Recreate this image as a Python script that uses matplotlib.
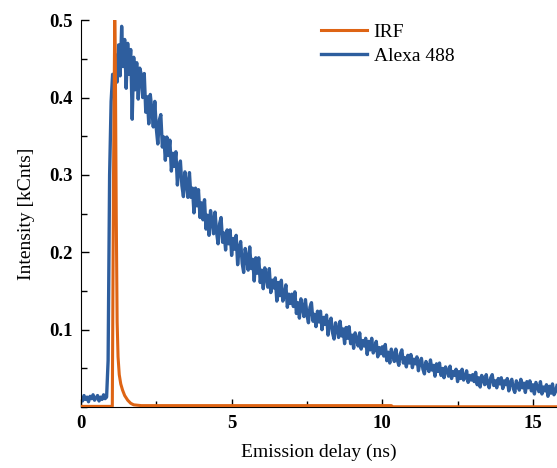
import numpy as np
import matplotlib.pyplot as plt
from matplotlib.ticker import MultipleLocator, FixedLocator

# Alexa 488 decay, one value per 0.05 ns bin starting at 0 ns
time_step = 0.05
alexa = [
    0.012, 0.008, 0.015, 0.010, 0.013, 0.007, 0.014, 0.011, 0.016, 0.009,
    0.012, 0.015, 0.008, 0.013, 0.010, 0.016, 0.011, 0.013, 0.060, 0.300,
    0.395, 0.430, 0.405, 0.455, 0.420, 0.468, 0.428, 0.492, 0.440, 0.475,
    0.412, 0.470, 0.430, 0.462, 0.372, 0.452, 0.410, 0.445, 0.398, 0.438,
    0.430, 0.400, 0.431, 0.381, 0.401, 0.366, 0.404, 0.385, 0.362, 0.395,
    0.360, 0.340, 0.371, 0.378, 0.336, 0.349, 0.319, 0.349, 0.325, 0.345,
    0.305, 0.328, 0.311, 0.330, 0.287, 0.310, 0.318, 0.286, 0.272, 0.304,
    0.290, 0.271, 0.303, 0.271, 0.283, 0.251, 0.283, 0.260, 0.281, 0.245,
    0.264, 0.242, 0.268, 0.230, 0.248, 0.222, 0.254, 0.240, 0.224, 0.252,
    0.226, 0.211, 0.237, 0.245, 0.213, 0.225, 0.203, 0.229, 0.211, 0.229,
    0.196, 0.218, 0.204, 0.222, 0.184, 0.206, 0.214, 0.186, 0.174, 0.205,
    0.193, 0.177, 0.207, 0.179, 0.191, 0.163, 0.193, 0.173, 0.193, 0.161,
    0.177, 0.153, 0.180, 0.169, 0.155, 0.179, 0.148, 0.164, 0.154, 0.167,
    0.137, 0.161, 0.144, 0.164, 0.137, 0.144, 0.158, 0.129, 0.146, 0.134,
    0.146, 0.130, 0.149, 0.121, 0.135, 0.115, 0.140, 0.129, 0.117, 0.139,
    0.119, 0.109, 0.129, 0.135, 0.111, 0.120, 0.104, 0.124, 0.110, 0.124,
    0.100, 0.116, 0.107, 0.119, 0.093, 0.109, 0.115, 0.096, 0.088, 0.109,
    0.101, 0.090, 0.111, 0.092, 0.101, 0.082, 0.103, 0.089, 0.104, 0.082,
    0.093, 0.076, 0.096, 0.088, 0.079, 0.096, 0.075, 0.086, 0.079, 0.089,
    0.068, 0.085, 0.074, 0.089, 0.070, 0.075, 0.085, 0.065, 0.077, 0.069,
    0.078, 0.066, 0.081, 0.060, 0.071, 0.057, 0.075, 0.068, 0.059, 0.075,
    0.061, 0.054, 0.069, 0.074, 0.057, 0.064, 0.052, 0.067, 0.057, 0.068,
    0.051, 0.062, 0.056, 0.065, 0.047, 0.058, 0.063, 0.049, 0.043, 0.059,
    0.053, 0.046, 0.061, 0.048, 0.054, 0.040, 0.056, 0.046, 0.057, 0.041,
    0.050, 0.038, 0.052, 0.047, 0.040, 0.053, 0.037, 0.046, 0.041, 0.049,
    0.033, 0.046, 0.037, 0.049, 0.035, 0.039, 0.047, 0.032, 0.041, 0.035,
    0.042, 0.033, 0.045, 0.029, 0.038, 0.026, 0.041, 0.036, 0.029, 0.042,
    0.031, 0.025, 0.038, 0.042, 0.028, 0.034, 0.025, 0.037, 0.030, 0.038,
    0.024, 0.034, 0.029, 0.037, 0.021, 0.032, 0.036, 0.024, 0.019, 0.034,
    0.029, 0.022, 0.036, 0.025, 0.031, 0.019, 0.033, 0.025, 0.034, 0.021,
    0.029, 0.017, 0.032, 0.026, 0.020, 0.033, 0.017, 0.026, 0.021, 0.029,
    0.014, 0.027, 0.018, 0.030, 0.016, 0.020, 0.028,
]

# instrument response function
irf_time = [0.0, 1.04, 1.08, 1.12, 1.14, 1.17, 1.20, 1.23, 1.27, 1.32,
            1.38, 1.45, 1.55, 1.65, 1.75, 2.0, 10.3, 10.35, 15.8]
irf = [0.001, 0.001, 0.30, 0.50, 0.45, 0.25, 0.11, 0.065, 0.042, 0.030,
       0.022, 0.015, 0.009, 0.005, 0.003, 0.002, 0.002, 0.0005, 0.0005]

orange = "#DE6414"
blue = "#2E5E9E"

plt.rcParams["font.family"] = ["Liberation Serif", "DejaVu Serif"]

fig = plt.figure(figsize=(5.57, 4.68), dpi=100)
ax = fig.add_axes([0.1454, 0.130, 0.8546, 0.827])

alexa_time = time_step * np.arange(len(alexa))
ax.plot(irf_time, irf, color=orange, lw=2.2, label="IRF", zorder=3)
ax.plot(alexa_time, alexa, color=blue, lw=2.4, label="Alexa 488", zorder=2)

ax.set_xlim(0, 15.8)
ax.set_ylim(0, 0.5)
ax.xaxis.set_major_locator(FixedLocator([0, 5, 10, 15]))
ax.xaxis.set_minor_locator(MultipleLocator(2.5))
ax.yaxis.set_major_locator(FixedLocator([0.1, 0.2, 0.3, 0.4, 0.5]))
ax.yaxis.set_minor_locator(MultipleLocator(0.05))
ax.tick_params(which="both", direction="in", width=1.0, labelsize=13.5, pad=6)
ax.tick_params(which="major", length=6)
ax.tick_params(which="minor", length=4)
for lbl in ax.get_xticklabels() + ax.get_yticklabels():
    lbl.set_fontweight("bold")

for side in ["top", "right"]:
    ax.spines[side].set_visible(False)

ax.set_xlabel("Emission delay (ns)", fontsize=14, labelpad=8)
ax.set_ylabel("Intensity [kCnts]", fontsize=14, labelpad=10)

ax.legend(loc="upper left", bbox_to_anchor=(0.468, 1.036), frameon=False,
          fontsize=14, handlelength=2.35, handletextpad=0.35, labelspacing=0.3)

fig.savefig("out.png", dpi=100)
